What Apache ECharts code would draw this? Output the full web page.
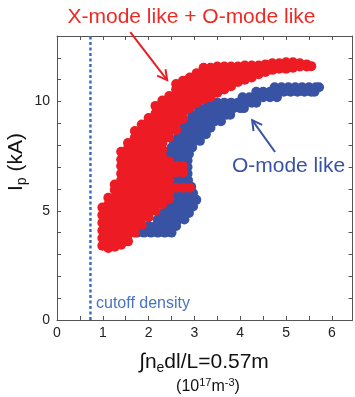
<!DOCTYPE html>
<html>
<head>
<meta charset="utf-8">
<script src="https://cdn.jsdelivr.net/npm/echarts@6/dist/echarts.min.js"></script>
<style>
html,body{margin:0;padding:0;background:#fff;}
#chart{width:355px;height:397px;}
</style>
</head>
<body>
<div id="chart"></div>
<script>
// ---- axis settings (data units) ----
const xMin = 0, xMax = 6.45, xStep = 0.5;
const yMin = 0, yMax = 13, yStep = 1;
const xTickLabels = [0, 1, 2, 3, 4, 5, 6];
const yTickLabels = [0, 5, 10];
const cutoffDensity = 0.73;

// ---- red: "X-mode like + O-mode like" ----
const redLowerBlob = [
[0.99,3.4],[0.99,3.75],[0.99,4.1],[0.99,4.45],[0.99,4.8],[0.99,5.15],
[1.12,3.3],[1.12,3.62],[1.12,3.95],[1.12,4.28],[1.12,4.6],[1.12,4.95],[1.12,5.28],[1.12,5.6],
[1.26,3.35],[1.26,3.7],[1.26,4.0],[1.26,4.35],[1.26,4.65],[1.26,5.0],[1.26,5.3],[1.26,5.6],[1.26,5.95],[1.26,6.2],
[1.4,3.45],[1.4,3.8],[1.4,4.1],[1.4,4.45],[1.4,4.75],[1.4,5.1],[1.4,5.4],[1.4,5.75],[1.4,6.05],[1.4,6.4],[1.4,6.7],[1.4,7.05],[1.4,7.35],[1.4,7.7],
[1.55,3.6],[1.55,3.9],[1.55,4.25],[1.55,4.55],[1.55,4.9],[1.55,5.2],[1.55,5.55],[1.55,5.85],[1.55,6.2],[1.55,6.5],[1.55,6.85],[1.55,7.15],[1.55,7.5],[1.55,7.85],[1.55,8.1],
[1.7,4.0],[1.7,4.3],[1.7,4.6],[1.7,4.9],[1.7,5.2],[1.7,5.5],[1.7,5.8],[1.7,6.1],[1.7,6.45],[1.7,6.75],[1.7,7.1],[1.7,7.4],[1.7,7.75],[1.7,8.05],[1.7,8.35],[1.7,8.65],
[1.85,4.35],[1.85,4.65],[1.85,4.95],[1.85,5.25],[1.85,5.55],[1.85,5.85],[1.85,6.15],[1.85,6.45],[1.85,6.75],[1.85,7.05],[1.85,7.4],[1.85,7.7],[1.85,8.05],[1.85,8.35],[1.85,8.65],[1.85,8.95],
[2.0,4.7],[2.0,5.0],[2.0,5.3],[2.0,5.6],[2.0,5.9],[2.0,6.2],[2.0,6.5],[2.0,6.8],[2.0,7.15],[2.0,7.45],[2.0,7.8],[2.0,8.1],[2.0,8.45],[2.0,8.75],[2.0,9.05],[2.0,9.25],
[2.15,5.0],[2.15,5.3],[2.15,5.6],[2.15,5.9],[2.15,6.2],[2.15,6.5],[2.15,6.85],[2.15,7.15],[2.15,7.5],[2.15,7.8],[2.15,8.15],[2.15,8.45],[2.15,8.8],[2.15,9.1],[2.15,9.45],[2.15,9.8],
[2.3,5.3],[2.3,5.6],[2.3,5.9],[2.3,6.2],[2.3,6.5],[2.3,6.8],[2.3,7.15],[2.3,7.45],[2.3,7.8],[2.3,8.1],[2.3,8.45],[2.3,8.75],[2.3,9.1],[2.3,9.4],[2.3,9.75],[2.3,10.05],
[2.45,5.55],[2.45,5.85],[2.45,6.1],[2.45,6.4],[2.45,6.7],[2.45,7.0],[2.45,7.25],[2.45,8.35],[2.45,8.65],[2.45,8.95],[2.45,9.25],[2.45,9.55],[2.45,9.9],[2.45,10.25],
[2.6,6.05],[2.75,6.05],[2.9,6.05],[2.6,6.75],[2.6,7.05],[2.75,6.75],[2.75,7.05]
];
const redUpperBand = [
[2.6,8.7],[2.6,9.0],[2.6,9.3],[2.6,9.6],[2.6,9.95],[2.6,10.25],[2.6,10.55],[2.6,10.8],
[2.75,9.2],[2.75,9.5],[2.75,9.8],[2.75,10.1],[2.75,10.4],[2.75,10.7],[2.75,10.95],
[2.9,9.7],[2.9,10.0],[2.9,10.3],[2.9,10.6],[2.9,10.85],[2.9,11.1],
[3.05,9.95],[3.05,10.25],[3.05,10.55],[3.05,10.85],[3.05,11.1],[3.05,11.3],
[3.2,10.1],[3.2,10.4],[3.2,10.7],[3.2,11.0],[3.2,11.3],[3.2,11.55],
[3.35,10.2],[3.35,10.5],[3.35,10.8],[3.35,11.1],[3.35,11.35],[3.35,11.55],
[3.5,10.4],[3.5,10.7],[3.5,11.0],[3.5,11.3],[3.5,11.6],
[3.65,10.55],[3.65,10.85],[3.65,11.15],[3.65,11.4],[3.65,11.6],
[3.8,10.7],[3.8,11.0],[3.8,11.3],[3.8,11.6],
[3.95,10.9],[3.95,11.2],[3.95,11.45],[3.95,11.6],
[4.1,11.0],[4.1,11.3],[4.1,11.65],
[4.25,11.1],[4.25,11.4],[4.25,11.65],
[4.4,11.25],[4.4,11.5],[4.4,11.65],
[4.55,11.35],[4.55,11.7],
[4.7,11.45],[4.7,11.75],
[4.85,11.5],[4.85,11.75],
[5.0,11.5],[5.0,11.8],
[5.15,11.55],[5.15,11.8],
[5.3,11.6],[5.3,11.75],
[5.45,11.6],[5.45,11.7],
[5.55,11.62]
];

// ---- blue: "O-mode like" ----
const blueLower = [
[1.75,4.0],[1.9,4.0],[2.05,4.0],[2.2,4.0],[2.35,4.0],[2.5,4.0],
[2.0,4.3],[2.15,4.3],[2.3,4.3],[2.45,4.3],[2.6,4.3],
[2.2,4.6],[2.35,4.6],[2.5,4.6],[2.65,4.6],[2.78,4.6],
[2.3,4.9],[2.45,4.9],[2.6,4.9],[2.75,4.9],[2.88,4.9],
[2.4,5.2],[2.55,5.2],[2.7,5.2],[2.85,5.2],[2.97,5.2],
[2.5,5.5],[2.65,5.5],[2.8,5.5],[2.95,5.5],[3.04,5.5],
[2.55,5.8],[2.7,5.8],[2.85,5.8],[2.97,5.8],
[2.55,6.1],[2.7,6.1],[2.85,6.1],[2.93,6.1],
[2.5,6.4],[2.65,6.4],[2.8,6.4],[2.86,6.4],
[2.5,6.7],[2.65,6.7],[2.8,6.7],[2.85,6.7],
[2.5,7.0],[2.65,7.0],[2.8,7.0],[2.85,7.0],
[2.45,7.3],[2.6,7.3],[2.75,7.3],[2.85,7.3],
[2.45,7.6],[2.6,7.6],[2.75,7.6],[2.88,7.6],
[2.5,7.9],[2.65,7.9],[2.8,7.9],[2.95,7.9],
[2.55,8.2],[2.7,8.2],[2.85,8.2],[3.0,8.2],[3.12,8.2]
];
const blueBand = [
[2.65,8.5],[2.8,8.5],[2.95,8.5],[3.1,8.5],[3.25,8.5],
[2.75,8.8],[2.9,8.8],[3.05,8.8],[3.2,8.8],[3.35,8.8],
[2.85,9.1],[3.0,9.1],[3.15,9.1],[3.3,9.1],[3.45,9.1],[3.58,9.1],
[2.95,9.4],[3.1,9.4],[3.25,9.4],[3.4,9.4],[3.55,9.4],[3.7,9.4],[3.78,9.4],
[3.1,9.7],[3.25,9.7],[3.4,9.7],[3.55,9.7],[3.7,9.7],[3.85,9.7],[4.0,9.7],[4.08,9.7],
[3.35,9.95],[3.5,9.95],[3.65,9.95],[3.8,9.95],[3.95,9.95],[4.1,9.95],[4.25,9.95],[4.35,9.95],
[4.05,10.2],[4.2,10.2],[4.35,10.2],[4.5,10.2],[4.65,10.2],[4.8,10.2],
[4.35,10.45],[4.5,10.45],[4.65,10.45],[4.8,10.45],[4.95,10.45],[5.1,10.45],[5.25,10.45],[5.4,10.45],[5.55,10.45],[5.62,10.45],
[4.75,10.65],[4.9,10.65],[5.05,10.65],[5.2,10.65],[5.35,10.65],[5.5,10.65],[5.65,10.65],[5.72,10.65]
];

// ---- annotation arrows (data coordinates: [start, tip]) ----
const redArrow = [[1.6, 13.18], [2.405, 10.98]];
const blueArrow = [[4.76, 7.69], [4.26, 9.15]];

const RED = '#ed1c24', BLUE = '#3953a4', CUT = '#3d6cc8', AX = '#555';
const FONT = '"Liberation Sans", Arial, Helvetica, sans-serif';

const chart = echarts.init(document.getElementById('chart'), null, {renderer: 'canvas'});

function axisCommon(extra) {
  return Object.assign({
    type: 'value',
    axisLine: {show: true, onZero: false, lineStyle: {color: AX, width: 1}},
    axisTick: {show: true, inside: true, length: 4, lineStyle: {color: AX, width: 1}},
    splitLine: {show: false}
  }, extra);
}

chart.setOption({
  animation: false,
  backgroundColor: '#fff',
  grid: {left: 57, right: 2.5, top: 36, bottom: 77, containLabel: false},
  xAxis: [
    axisCommon({min: xMin, max: xMax, interval: xStep, position: 'bottom',
      axisLabel: {margin: 6, fontSize: 14, color: '#222', fontFamily: FONT,
        showMaxLabel: false,
        formatter: v => xTickLabels.indexOf(v) >= 0 ? String(v) : ''}}),
    axisCommon({min: xMin, max: xMax, interval: xStep, position: 'top',
      axisLabel: {show: false}})
  ],
  yAxis: [
    axisCommon({min: yMin, max: yMax, interval: yStep, position: 'left',
      axisLabel: {margin: 7, fontSize: 14, color: '#222', fontFamily: FONT,
        formatter: v => yTickLabels.indexOf(v) >= 0 ? String(v) : ''}}),
    axisCommon({min: yMin, max: yMax, interval: yStep, position: 'right',
      axisLabel: {show: false}})
  ],
  series: [
    {type: 'line', data: [[cutoffDensity, yMin], [cutoffDensity, yMax]], symbol: 'none',
      lineStyle: {color: CUT, width: 2.5, type: [3, 2.5]}, z: 1},
    {type: 'scatter', data: blueLower, symbolSize: 10, itemStyle: {color: BLUE, opacity: 1}, z: 2},
    {type: 'scatter', data: blueBand, symbolSize: 10, itemStyle: {color: BLUE, opacity: 1}, z: 2},
    {type: 'scatter', data: redLowerBlob, symbolSize: 10, itemStyle: {color: RED, opacity: 1}, z: 3},
    {type: 'scatter', data: redUpperBand, symbolSize: 10, itemStyle: {color: RED, opacity: 1}, z: 3}
  ]
});

function arrowGraphics(arr, color) {
  const p0 = chart.convertToPixel({gridIndex: 0}, arr[0]);
  const p1 = chart.convertToPixel({gridIndex: 0}, arr[1]);
  const ang = Math.atan2(p0[1] - p1[1], p0[0] - p1[0]);
  const L = 11, a = 0.5;
  const h1 = [p1[0] + L * Math.cos(ang + a), p1[1] + L * Math.sin(ang + a)];
  const h2 = [p1[0] + L * Math.cos(ang - a), p1[1] + L * Math.sin(ang - a)];
  return [
    {type: 'polyline', shape: {points: [p0, p1]}, style: {stroke: color, lineWidth: 2, fill: null}, z: 10},
    {type: 'polyline', shape: {points: [h1, p1, h2]}, style: {stroke: color, lineWidth: 2, fill: null}, z: 10}
  ];
}

const graphics = [].concat(
  arrowGraphics(redArrow, RED),
  arrowGraphics(blueArrow, BLUE),
  [
    {type: 'text', x: 191.5, y: 17, z: 10,
      style: {text: 'X-mode like + O-mode like', fill: '#ee2a24', font: '21px ' + FONT,
        align: 'center', verticalAlign: 'middle'}},
    {type: 'text', x: 288.5, y: 166, z: 10,
      style: {text: 'O-mode like', fill: BLUE, font: '21px ' + FONT,
        align: 'center', verticalAlign: 'middle'}},
    {type: 'text', x: 96, y: 304, z: 10,
      style: {text: 'cutoff density', fill: '#4a72c4', font: '16px ' + FONT,
        align: 'left', verticalAlign: 'middle'}},
    {type: 'text', x: 16, y: 162, rotation: Math.PI / 2, z: 10,
      style: {text: '{a|I}{s|p}{a| (kA)}', align: 'center', verticalAlign: 'middle',
        rich: {
          a: {fontSize: 21, fontFamily: FONT, fill: '#111', lineHeight: 26},
          s: {fontSize: 14, fontFamily: FONT, fill: '#111', lineHeight: 15, verticalAlign: 'bottom'}
        }}},
    {type: 'text', x: 204, y: 362, z: 10,
      style: {text: '{a|\u222Bn}{s|e}{a|dl/L=0.57m}', align: 'center', verticalAlign: 'middle',
        rich: {
          a: {fontSize: 21, fontFamily: FONT, fill: '#111', lineHeight: 26},
          s: {fontSize: 14, fontFamily: FONT, fill: '#111', lineHeight: 15, verticalAlign: 'bottom'}
        }}},
    {type: 'text', x: 208, y: 387, z: 10,
      style: {text: '{a|(10}{s|17}{a|m}{s|-3}{a|)}', align: 'center', verticalAlign: 'middle',
        rich: {
          a: {fontSize: 16, fontFamily: FONT, fill: '#111', lineHeight: 20},
          s: {fontSize: 11, fontFamily: FONT, fill: '#111', lineHeight: 12, verticalAlign: 'top'}
        }}}
  ]
);

chart.setOption({graphic: graphics});
</script>
</body>
</html>
